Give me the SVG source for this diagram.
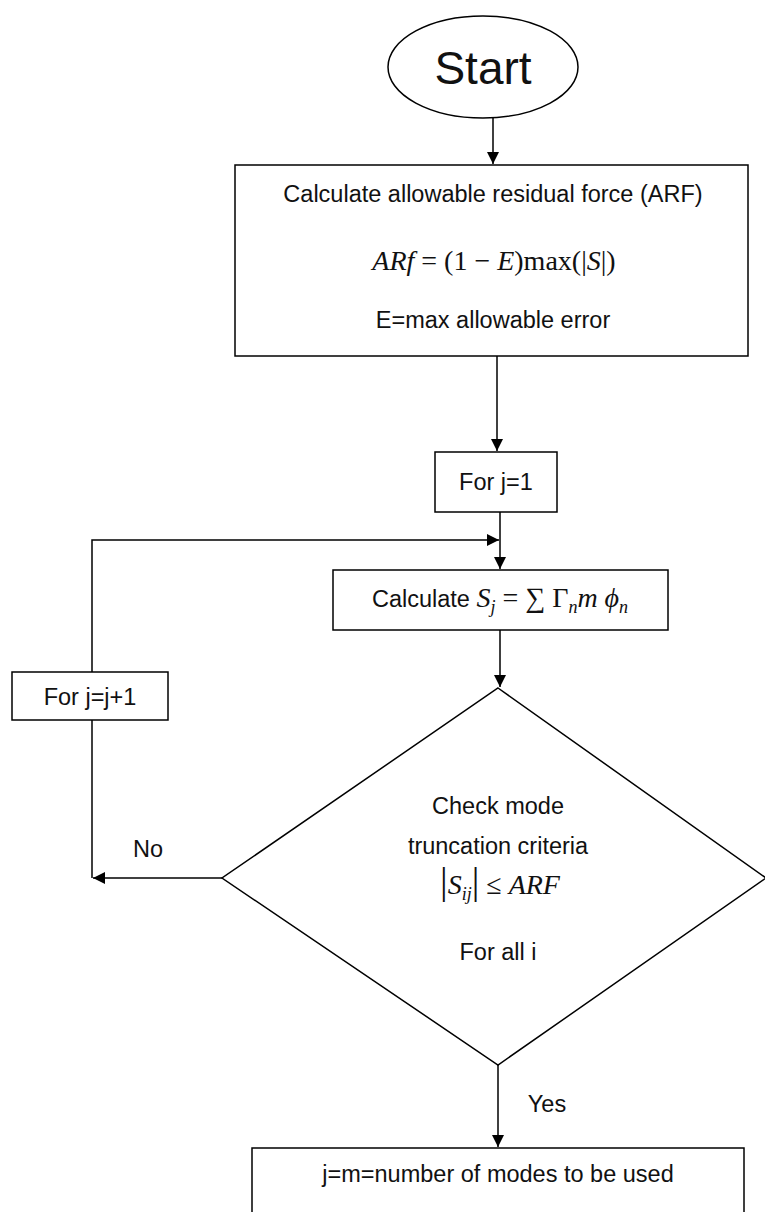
<svg xmlns="http://www.w3.org/2000/svg" width="765" height="1212" viewBox="0 0 765 1212">
<style>
.n{fill:#fff;stroke:#000;stroke-width:1.5}
.t{font-family:"Liberation Sans",Arial,sans-serif;font-size:23.5px;fill:#111;text-anchor:middle}
.m{font-family:"Liberation Serif","Times New Roman",serif;font-size:28px;fill:#111}
.i{font-style:italic}
.s{font-size:18px}
.c{fill:none;stroke:#000;stroke-width:1.5}
</style>
<defs>
<marker id="ah" viewBox="0 0 10 10" refX="10" refY="5" markerWidth="12" markerHeight="12" markerUnits="userSpaceOnUse" orient="auto">
<path d="M0,0 L10,5 L0,10 z" fill="#000"/>
</marker>
</defs>
<g id="connectors">
<path class="c" d="M493,118 V164" marker-end="url(#ah)"/>
<path class="c" d="M497,356 V451" marker-end="url(#ah)"/>
<path class="c" d="M500,512 V569" marker-end="url(#ah)"/>
<path class="c" d="M92,672 V540 H499" marker-end="url(#ah)"/>
<path class="c" d="M500,630 V687" marker-end="url(#ah)"/>
<path class="c" d="M222,878 H93" marker-end="url(#ah)"/>
<path class="c" d="M92,878 V720"/>
<path class="c" d="M498,1065 V1147" marker-end="url(#ah)"/>
<text class="t" x="148" y="857">No</text>
<text class="t" x="547" y="1112">Yes</text>
</g>
<g id="start">
<ellipse class="n" cx="483" cy="67" rx="95" ry="51"/>
<text class="t" x="483" y="84" style="font-size:46px">Start</text>
</g>
<g id="arf">
<rect class="n" x="235" y="165" width="513" height="191"/>
<text class="t" x="493" y="202">Calculate allowable residual force (ARF)</text>
<text class="m" x="494" y="270" text-anchor="middle"><tspan class="i">ARf</tspan> = (1 − <tspan class="i">E</tspan>)max(|<tspan class="i">S</tspan>|)</text>
<text class="t" x="493" y="328">E=max allowable error</text>
</g>
<g id="forj1">
<rect class="n" x="435" y="452" width="122" height="60"/>
<text class="t" x="496" y="490">For j=1</text>
</g>
<g id="calcS">
<rect class="n" x="333" y="570" width="335" height="60"/>
<text x="500" y="607" text-anchor="middle"><tspan class="t">Calculate </tspan><tspan class="m i">S</tspan><tspan class="m i s" dy="6">j</tspan><tspan class="m" dy="-6"> = ∑ Γ</tspan><tspan class="m i s" dy="6">n</tspan><tspan class="m i" dy="-6">m ϕ</tspan><tspan class="m i s" dy="6">n</tspan></text>
</g>
<g id="forjj1">
<rect class="n" x="12" y="672" width="156" height="48"/>
<text class="t" x="90" y="705">For j=j+1</text>
</g>
<g id="check">
<polygon class="n" points="498,688 766,878 498,1065 222,878"/>
<text class="t" x="498" y="814">Check mode</text>
<text class="t" x="498" y="854">truncation criteria</text>
<text class="m" x="500" y="894" text-anchor="middle"><tspan style="font-size:38px">|</tspan><tspan class="i">S</tspan><tspan class="i s" dy="6">ij</tspan><tspan style="font-size:38px" dy="-6">|</tspan> ≤ <tspan class="i">ARF</tspan></text>
<text class="t" x="498" y="960">For all i</text>
</g>
<g id="result">
<rect class="n" x="252" y="1148" width="492" height="80"/>
<text class="t" x="498" y="1182">j=m=number of modes to be used</text>
</g>
</svg>
